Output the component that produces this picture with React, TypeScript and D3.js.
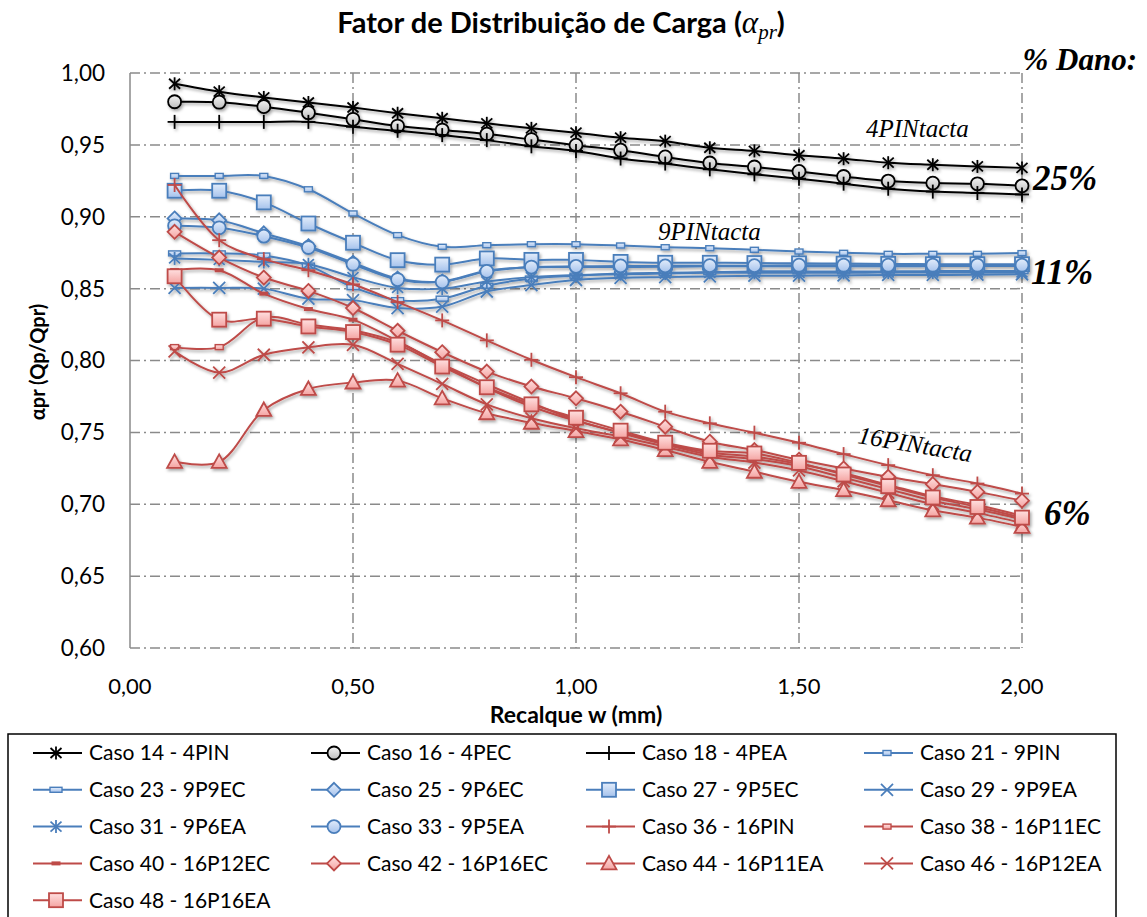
import * as d3 from "d3";

// Recalque w (mm)
const recalque = [0.1, 0.2, 0.3, 0.4, 0.5, 0.6, 0.7, 0.8, 0.9, 1.0, 1.1, 1.2, 1.3, 1.4, 1.5, 1.6, 1.7, 1.8, 1.9, 2.0];

// 4 estacas
const caso14 = [0.9925, 0.987, 0.983, 0.9795, 0.976, 0.972, 0.9685, 0.965, 0.9615, 0.9585, 0.955, 0.9526, 0.948, 0.9458, 0.9428, 0.9404, 0.9376, 0.9362, 0.935, 0.934];
const caso16 = [0.980, 0.9797, 0.9766, 0.9724, 0.9678, 0.9631, 0.9603, 0.9575, 0.9537, 0.9498, 0.9463, 0.9416, 0.9374, 0.9346, 0.9315, 0.928, 0.9248, 0.9234, 0.9229, 0.9215];
const caso18 = [0.966, 0.966, 0.966, 0.966, 0.9626, 0.9598, 0.9568, 0.9533, 0.949, 0.9458, 0.9405, 0.937, 0.933, 0.9295, 0.9265, 0.923, 0.9195, 0.9175, 0.9165, 0.9155];

// 9 estacas
const caso21 = [0.9284, 0.9284, 0.9284, 0.9191, 0.9023, 0.8872, 0.8791, 0.8802, 0.8809, 0.8809, 0.880, 0.8788, 0.8781, 0.877, 0.8758, 0.8749, 0.8742, 0.8742, 0.8742, 0.8747];
const caso23 = [0.8745, 0.8745, 0.873, 0.866, 0.851, 0.842, 0.843, 0.852, 0.857, 0.859, 0.8605, 0.861, 0.8615, 0.862, 0.862, 0.862, 0.862, 0.8622, 0.8622, 0.8622];
const caso25 = [0.8988, 0.8975, 0.8885, 0.8795, 0.868, 0.857, 0.855, 0.8625, 0.8648, 0.865, 0.865, 0.8652, 0.8655, 0.8655, 0.8655, 0.8655, 0.8655, 0.8657, 0.8657, 0.8657];
const caso27 = [0.9181, 0.9181, 0.910, 0.8953, 0.8819, 0.8698, 0.8667, 0.871, 0.870, 0.870, 0.8686, 0.868, 0.868, 0.8678, 0.8676, 0.8674, 0.8672, 0.867, 0.867, 0.867];
const caso29 = [0.8505, 0.8505, 0.850, 0.843, 0.842, 0.8365, 0.8375, 0.848, 0.8525, 0.856, 0.8575, 0.858, 0.8585, 0.859, 0.859, 0.8592, 0.8595, 0.8595, 0.8597, 0.860];
const caso31 = [0.871, 0.870, 0.8685, 0.867, 0.858, 0.8505, 0.850, 0.855, 0.858, 0.8595, 0.860, 0.8605, 0.861, 0.861, 0.861, 0.861, 0.8612, 0.8612, 0.8612, 0.8612];
const caso33 = [0.8937, 0.8923, 0.8865, 0.8786, 0.867, 0.8563, 0.8547, 0.862, 0.865, 0.8655, 0.8658, 0.8658, 0.866, 0.866, 0.8663, 0.8663, 0.8663, 0.8663, 0.8663, 0.8663];

// 16 estacas
const caso36 = [0.9221, 0.8837, 0.8705, 0.8628, 0.853, 0.8407, 0.8279, 0.814, 0.8005, 0.7884, 0.7772, 0.7644, 0.7563, 0.7498, 0.7428, 0.7349, 0.7272, 0.7202, 0.7144, 0.7074];
const caso38 = [0.8093, 0.8093, 0.830, 0.825, 0.821, 0.8125, 0.797, 0.781, 0.768, 0.758, 0.750, 0.742, 0.736, 0.733, 0.728, 0.7215, 0.7135, 0.7055, 0.6995, 0.692];
const caso40 = [0.863, 0.8628, 0.8465, 0.8358, 0.8284, 0.8135, 0.7975, 0.7835, 0.7705, 0.7585, 0.7495, 0.7415, 0.7345, 0.7315, 0.7265, 0.7185, 0.7105, 0.7025, 0.6965, 0.6895];
const caso42 = [0.8895, 0.8716, 0.8577, 0.8484, 0.8365, 0.8207, 0.8058, 0.7923, 0.7819, 0.7737, 0.7644, 0.754, 0.7435, 0.7377, 0.731, 0.7249, 0.7191, 0.714, 0.7086, 0.7025];
const caso44 = [0.7295, 0.7295, 0.7656, 0.7802, 0.7847, 0.786, 0.7737, 0.7633, 0.7567, 0.7509, 0.7451, 0.7377, 0.7295, 0.7226, 0.7156, 0.7098, 0.7028, 0.6958, 0.6907, 0.6842];
const caso46 = [0.8063, 0.7916, 0.804, 0.8091, 0.8109, 0.7977, 0.7837, 0.7695, 0.7598, 0.7528, 0.747, 0.740, 0.733, 0.729, 0.7235, 0.716, 0.708, 0.700, 0.694, 0.687];
const caso48 = [0.8586, 0.8284, 0.8291, 0.8237, 0.8198, 0.811, 0.7958, 0.7814, 0.7695, 0.7602, 0.7512, 0.7428, 0.7372, 0.7353, 0.7288, 0.7207, 0.7126, 0.7047, 0.6981, 0.6907];

const yTicks = [0.6, 0.65, 0.7, 0.75, 0.8, 0.85, 0.9, 0.95, 1.0];
const xTicks = [0, 0.5, 1.0, 1.5, 2.0];
const verticalGrid = [0.5, 1.0, 1.5, 2.0];

const BLUE = "#4a7ebb";
const RED = "#be4b48";
const SANS = "Lato, 'Open Sans', sans-serif";
const SERIF = "'Liberation Serif', 'DejaVu Serif', serif";

type MarkerType = "asterisk" | "circle" | "plus" | "rectSmall" | "rectWide" | "diamond" | "square" | "x" | "dash" | "triangle";

interface Serie {
    label: string;
    values: number[];
    color: string;
    marker: MarkerType;
    fill: string;
}

const series: Serie[] = [
    { label: "Caso 14 - 4PIN", values: caso14, color: "#000", marker: "asterisk", fill: "none" },
    { label: "Caso 16 - 4PEC", values: caso16, color: "#000", marker: "circle", fill: "url(#gGray)" },
    { label: "Caso 18 - 4PEA", values: caso18, color: "#000", marker: "plus", fill: "none" },
    { label: "Caso 21 - 9PIN", values: caso21, color: BLUE, marker: "rectSmall", fill: "url(#gBlue)" },
    { label: "Caso 23 - 9P9EC", values: caso23, color: BLUE, marker: "rectWide", fill: "url(#gBlue)" },
    { label: "Caso 25 - 9P6EC", values: caso25, color: BLUE, marker: "diamond", fill: "url(#gBlue)" },
    { label: "Caso 27 - 9P5EC", values: caso27, color: BLUE, marker: "square", fill: "url(#gBlue)" },
    { label: "Caso 29 - 9P9EA", values: caso29, color: BLUE, marker: "x", fill: "none" },
    { label: "Caso 31 - 9P6EA", values: caso31, color: BLUE, marker: "asterisk", fill: "none" },
    { label: "Caso 33 - 9P5EA", values: caso33, color: BLUE, marker: "circle", fill: "url(#gBlue)" },
    { label: "Caso 36 - 16PIN", values: caso36, color: RED, marker: "plus", fill: "none" },
    { label: "Caso 38 - 16P11EC", values: caso38, color: RED, marker: "rectSmall", fill: "url(#gRed)" },
    { label: "Caso 40 - 16P12EC", values: caso40, color: RED, marker: "dash", fill: RED },
    { label: "Caso 42 - 16P16EC", values: caso42, color: RED, marker: "diamond", fill: "url(#gRed)" },
    { label: "Caso 44 - 16P11EA", values: caso44, color: RED, marker: "triangle", fill: "url(#gRed)" },
    { label: "Caso 46 - 16P12EA", values: caso46, color: RED, marker: "x", fill: "none" },
    { label: "Caso 48 - 16P16EA", values: caso48, color: RED, marker: "square", fill: "url(#gRed)" },
];

const fmt = (v: number) => v.toFixed(2).replace(".", ",");

function Marker({ type, x, y, color, fill }: { type: MarkerType; x: number; y: number; color: string; fill: string }) {
    const sw = 1.8;
    switch (type) {
        case "asterisk":
            return (
                <g stroke={color} strokeWidth={sw} fill="none">
                    <line x1={x} y1={y - 6.5} x2={x} y2={y + 6.5} />
                    <line x1={x - 5.5} y1={y - 5} x2={x + 5.5} y2={y + 5} />
                    <line x1={x - 5.5} y1={y + 5} x2={x + 5.5} y2={y - 5} />
                </g>
            );
        case "plus":
            return (
                <g stroke={color} strokeWidth={sw}>
                    <line x1={x} y1={y - 7} x2={x} y2={y + 7} />
                    <line x1={x - 7} y1={y} x2={x + 7} y2={y} />
                </g>
            );
        case "x":
            return (
                <g stroke={color} strokeWidth={sw}>
                    <line x1={x - 6} y1={y - 6} x2={x + 6} y2={y + 6} />
                    <line x1={x - 6} y1={y + 6} x2={x + 6} y2={y - 6} />
                </g>
            );
        case "circle":
            return <circle cx={x} cy={y} r={6.5} stroke={color} strokeWidth={sw} fill={fill} />;
        case "square":
            return <rect x={x - 7} y={y - 7} width={14} height={14} stroke={color} strokeWidth={sw} fill={fill} />;
        case "diamond":
            return <path d={`M${x},${y - 7}L${x + 7},${y}L${x},${y + 7}L${x - 7},${y}Z`} stroke={color} strokeWidth={sw} fill={fill} />;
        case "triangle":
            return <path d={`M${x},${y - 7.5}L${x + 7.5},${y + 6}L${x - 7.5},${y + 6}Z`} stroke={color} strokeWidth={sw} fill={fill} />;
        case "rectSmall":
            return <rect x={x - 4} y={y - 2.5} width={8} height={5} stroke={color} strokeWidth={1.4} fill={fill} />;
        case "rectWide":
            return <rect x={x - 6} y={y - 2.5} width={12} height={5} stroke={color} strokeWidth={1.4} fill={fill} />;
        case "dash":
            return <rect x={x - 4.5} y={y - 2} width={9} height={4} fill={color} />;
    }
}

export default function App() {
    const width = 1147;
    const height = 917;
    const x = d3.scaleLinear([0, 2], [130, 1022]);
    const y = d3.scaleLinear([0.6, 1.0], [648, 73]);
    const line = d3.line<number>((_, i) => x(recalque[i]), (d) => y(d)).curve(d3.curveCatmullRom.alpha(0.5));

    const legendCols = [89, 367, 642, 920];
    const legendRow0 = 753;
    const legendStep = 36.8;

    return (
        <svg width={width} height={height} style={{ position: "absolute", left: 0, top: 0, display: "block", background: "#fff" }}>
            <defs>
                <linearGradient id="gBlue" x1="0" y1="0" x2="0" y2="1">
                    <stop offset="0" stopColor="#e3edfb" />
                    <stop offset="1" stopColor="#a5c2ec" />
                </linearGradient>
                <linearGradient id="gRed" x1="0" y1="0" x2="0" y2="1">
                    <stop offset="0" stopColor="#ffe0e0" />
                    <stop offset="1" stopColor="#f4a4a2" />
                </linearGradient>
                <linearGradient id="gGray" x1="0" y1="0" x2="0" y2="1">
                    <stop offset="0" stopColor="#f4f4f4" />
                    <stop offset="1" stopColor="#bdbdbd" />
                </linearGradient>
                <filter id="shadow" filterUnits="userSpaceOnUse" x="0" y="0" width={width} height={height}>
                    <feDropShadow dx="1.5" dy="2" stdDeviation="1.6" floodColor="#000" floodOpacity="0.35" />
                </filter>
            </defs>

            {/* Title */}
            <text x={561} y={33} textAnchor="middle" fontFamily={SANS} fontWeight="bold" fontSize={29}>
                Fator de Distribuição de Carga (
                <tspan fontFamily={SERIF} fontStyle="italic" fontWeight="normal" fontSize={31}>α</tspan>
                <tspan fontFamily={SERIF} fontStyle="italic" fontWeight="normal" fontSize={21} dy={6}>pr</tspan>
                <tspan dy={-6}>)</tspan>
            </text>

            {/* Grid */}
            <g stroke="#8a8a8a" strokeWidth={1.5} strokeDasharray="10,4,2,4" fill="none">
                {yTicks.map((t) => (
                    <line key={t} x1={x(0)} x2={x(2)} y1={y(t)} y2={y(t)} />
                ))}
                {verticalGrid.map((t) => (
                    <line key={t} x1={x(t)} x2={x(t)} y1={y(1)} y2={y(0.6)} />
                ))}
            </g>
            <line x1={x(0)} x2={x(0)} y1={y(1)} y2={y(0.6)} stroke="#8a8a8a" strokeWidth={1.5} />

            {/* Y tick labels */}
            <g fontFamily={SANS} fontSize={22.5} textAnchor="end">
                {yTicks.map((t) => (
                    <text key={t} x={105} y={y(t)} dy="0.35em">{fmt(t)}</text>
                ))}
            </g>
            {/* X tick labels */}
            <g fontFamily={SANS} fontSize={22} textAnchor="middle">
                {xTicks.map((t) => (
                    <text key={t} x={x(t)} y={694}>{fmt(t)}</text>
                ))}
            </g>

            {/* Axis titles */}
            <text x={576} y={723} textAnchor="middle" fontFamily={SANS} fontWeight="bold" fontSize={23}>Recalque w (mm)</text>
            <text transform="rotate(-90)" x={-362} y={45} textAnchor="middle" fontFamily={SANS} fontWeight="bold" fontSize={20}>αpr (Qp/Qpr)</text>

            {/* Series */}
            <g filter="url(#shadow)">
                {series.map((s) => (
                    <g key={s.label}>
                        <path d={line(s.values) || undefined} fill="none" stroke={s.color} strokeWidth={2} />
                        {s.values.map((v, i) => (
                            <Marker key={i} type={s.marker} x={x(recalque[i])} y={y(v)} color={s.color} fill={s.fill} />
                        ))}
                    </g>
                ))}
            </g>

            {/* Annotations */}
            <g fontFamily={SERIF} fontStyle="italic">
                <text x={866} y={137} fontSize={25}>4PINtacta</text>
                <text x={658} y={240} fontSize={25}>9PINtacta</text>
                <text x={857} y={443} fontSize={25} transform="rotate(9.5 857 443)">16PINtacta</text>
                <text x={1137} y={70} fontSize={31} fontWeight="bold" textAnchor="end">% Dano:</text>
                <text x={1033} y={190} fontSize={35} fontWeight="bold">25%</text>
                <text x={1031} y={284} fontSize={35} fontWeight="bold">11%</text>
                <text x={1044} y={525} fontSize={35} fontWeight="bold">6%</text>
            </g>

            {/* Legend */}
            <rect x={8} y={734} width={1108} height={220} fill="#fff" stroke="#000" strokeWidth={1.5} />
            <g fontFamily={SANS} fontSize={21}>
                {series.map((s, i) => {
                    const tx = legendCols[i % 4];
                    const ty = legendRow0 + Math.floor(i / 4) * legendStep;
                    return (
                        <g key={s.label}>
                            <line x1={tx - 56} x2={tx - 7} y1={ty} y2={ty} stroke={s.color} strokeWidth={2} />
                            <Marker type={s.marker} x={tx - 33} y={ty} color={s.color} fill={s.fill} />
                            <text x={tx} y={ty} dy="0.35em">{s.label}</text>
                        </g>
                    );
                })}
            </g>
        </svg>
    );
}
